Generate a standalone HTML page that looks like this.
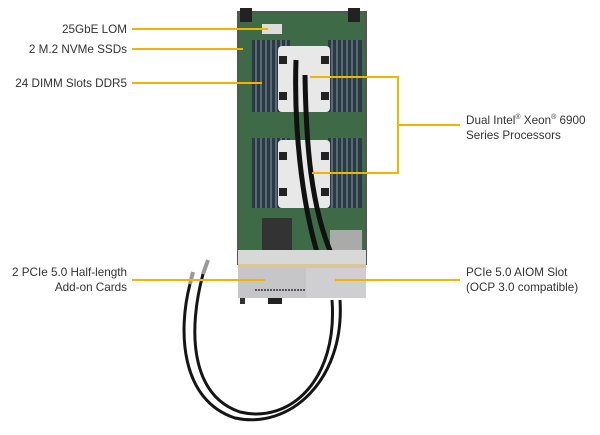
<!DOCTYPE html>
<html><head><style>
html,body{margin:0;padding:0;background:#fff;}
body{width:600px;height:435px;overflow:hidden;position:relative;font-family:"Liberation Sans",Arial,sans-serif;}
.t{position:absolute;font-size:11.7px;color:#333;line-height:15px;white-space:nowrap;}
.r{text-align:right;right:473px;}
</style></head><body>
<svg width="600" height="435" style="position:absolute;left:0;top:0">
  <rect x="238" y="12" width="128" height="252" fill="#3f6a48"/>
  <rect x="238" y="12" width="128" height="252" fill="none" stroke="#555" stroke-width="2"/>
  <rect x="240" y="8" width="12" height="14" fill="#222"/>
  <rect x="348" y="8" width="12" height="14" fill="#222"/>
  <rect x="262" y="24" width="20" height="10" fill="#ddd"/>
  <g fill="#2a3a44">
    <rect x="252" y="40" width="38" height="72"/>
    <rect x="328" y="40" width="34" height="72"/>
    <rect x="252" y="138" width="38" height="70"/>
    <rect x="328" y="138" width="34" height="70"/>
  </g>
  <g stroke="#8a9aa4" stroke-width="1">
    <path d="M256 40v72M261 40v72M266 40v72M271 40v72M276 40v72M281 40v72M286 40v72"/>
    <path d="M332 40v72M337 40v72M342 40v72M347 40v72M352 40v72M357 40v72"/>
    <path d="M256 138v70M261 138v70M266 138v70M271 138v70M276 138v70M281 138v70M286 138v70"/>
    <path d="M332 138v70M337 138v70M342 138v70M347 138v70M352 138v70M357 138v70"/>
  </g>
  <rect x="278" y="46" width="52" height="66" rx="4" fill="#e8e8e8"/>
  <rect x="278" y="140" width="52" height="68" rx="4" fill="#e8e8e8"/>
  <g fill="#222">
    <rect x="279" y="56" width="8" height="8"/><rect x="321" y="56" width="8" height="8"/>
    <rect x="279" y="92" width="8" height="8"/><rect x="321" y="92" width="8" height="8"/>
    <rect x="279" y="152" width="8" height="8"/><rect x="321" y="152" width="8" height="8"/>
    <rect x="279" y="188" width="8" height="8"/><rect x="321" y="188" width="8" height="8"/>
  </g>
  <rect x="262" y="218" width="30" height="38" fill="#333"/>
  <rect x="330" y="230" width="32" height="30" fill="#aaa"/>
  <path d="M296 60 C294 120,300 200,320 262" stroke="#111" stroke-width="5" fill="none"/>
  <path d="M305 75 C306 140,310 210,335 262" stroke="#111" stroke-width="5" fill="none"/>
  <rect x="238" y="250" width="128" height="14" fill="#d8d8d8"/>
  <rect x="238" y="264" width="128" height="4" fill="#d9c79a"/>
  <rect x="238" y="268" width="128" height="30" fill="#c6c6c8"/>
  <rect x="306" y="268" width="60" height="30" fill="#cfcfd1"/>
  <path d="M255 290h50" stroke="#555" stroke-width="2" stroke-dasharray="2 1"/>
  <rect x="268" y="298" width="14" height="6" fill="#222"/>
  <rect x="240" y="298" width="5" height="6" fill="#333"/>
  <path d="M190 284 C178 330,180 400,235 418 C290 430,345 380,340 300" stroke="#151515" stroke-width="3" fill="none"/>
  <path d="M203 274 C188 330,190 395,240 412 C290 424,338 380,332 300" stroke="#151515" stroke-width="3" fill="none"/>
  <path d="M190 284l3 -12" stroke="#999" stroke-width="4"/>
  <path d="M203 274l5 -14" stroke="#999" stroke-width="4"/>
  <g stroke="#f3b400" stroke-width="2" fill="none">
    <path d="M132 29H268"/>
    <path d="M132 49H243"/>
    <path d="M132 83H262"/>
    <path d="M310 77H398V173H312"/>
    <path d="M398 125H460"/>
    <path d="M132 280H265"/>
    <path d="M335 280H460"/>
  </g>
</svg>
<div class="t r" style="top:22px">25GbE LOM</div>
<div class="t r" style="top:42px">2 M.2 NVMe SSDs</div>
<div class="t r" style="top:76px">24 DIMM Slots DDR5</div>
<div class="t r" style="top:265px">2 PCIe 5.0 Half-length<br>Add-on Cards</div>
<div class="t" style="left:466px;top:110px">Dual Intel<sup style="font-size:7px">®</sup> Xeon<sup style="font-size:7px">®</sup> 6900<br>Series Processors</div>
<div class="t" style="left:466px;top:265px">PCIe 5.0 AIOM Slot<br>(OCP 3.0 compatible)</div>
</body></html>
